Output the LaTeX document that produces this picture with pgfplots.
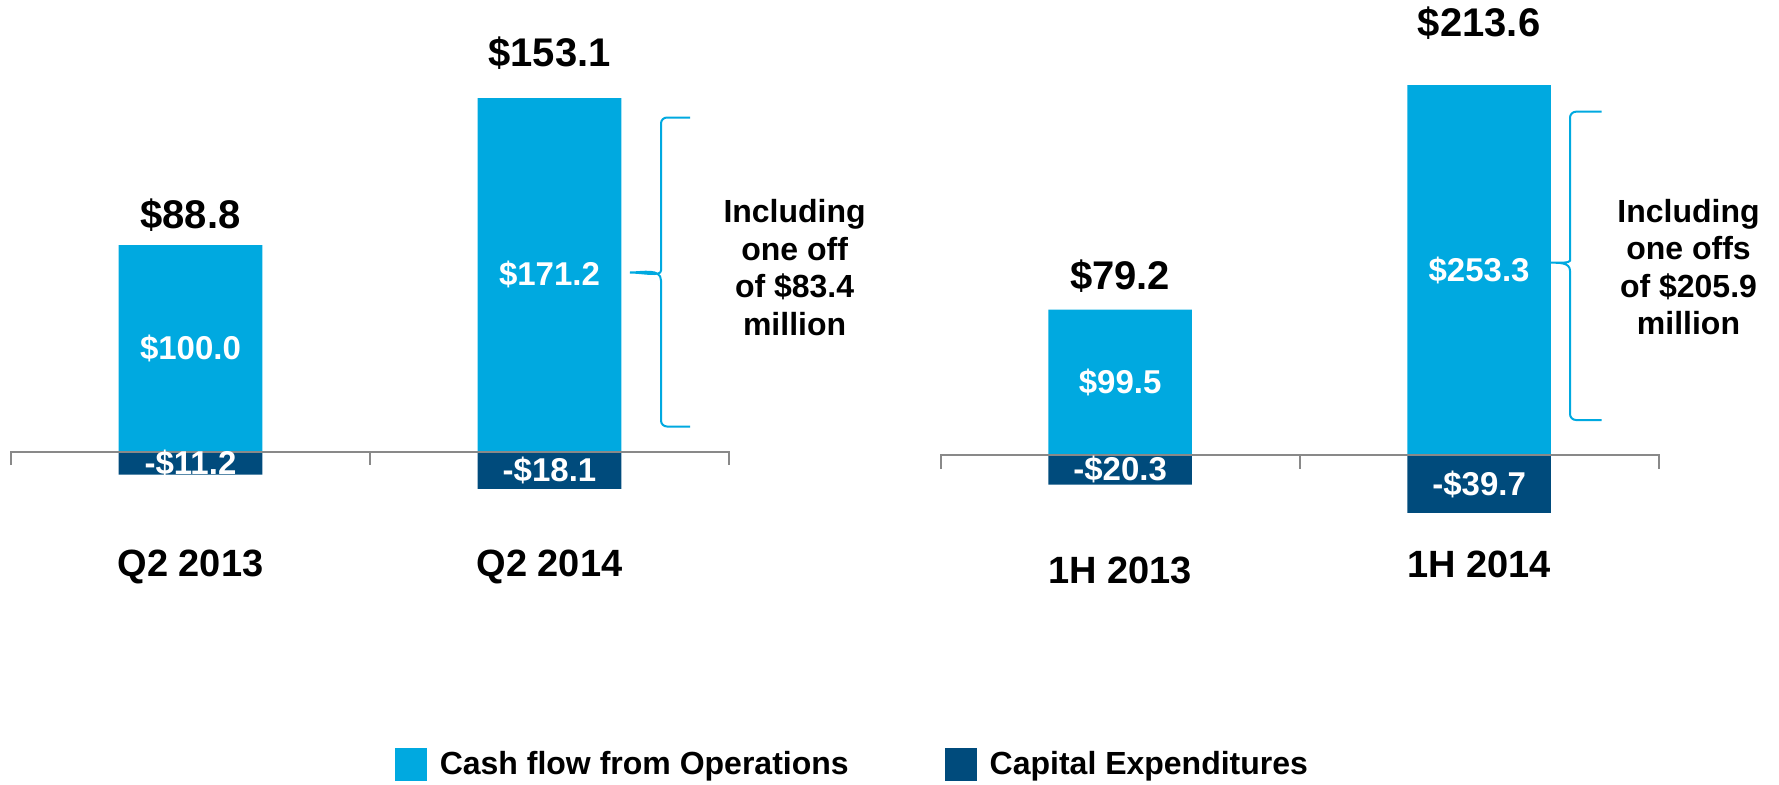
\documentclass[border=0pt]{standalone}
\usepackage{fontspec}
\setmainfont{Liberation Sans}
\usepackage{pgfplots}
\pgfplotsset{compat=1.18}

\definecolor{cfo}{RGB}{0,169,224}
\definecolor{capex}{RGB}{0,75,124}
\definecolor{axisgray}{RGB}{137,137,137}

% font sizes (1 px = 0.5 pt)
\newcommand{\totfont}{\fontsize{20}{24}\selectfont\bfseries}
\newcommand{\catfont}{\fontsize{19}{23}\selectfont\bfseries}
\newcommand{\infont}{\fontsize{16.5}{20}\selectfont\bfseries}
\newcommand{\annfont}{\fontsize{16}{18.7}\selectfont\bfseries}

% brace: hook end x, line x, tip x, top y, bottom y, mid y
\newcommand{\onebrace}[6]{%
  \draw[cfo, line width=1pt, rounded corners=3pt]
    (#1,#4) -- (#2,#4) -- (#2,#6+4pt)
    to[rounded corners=0pt, out=-90, in=0] (#3,#6)
    to[rounded corners=0pt, out=0, in=90] (#2,#6-4pt)
    -- (#2,#5) -- (#1,#5);}

% baseline with three ticks hanging down; #1 = tick length in axis units
\newcommand{\baseaxis}[1]{%
  \draw[axisgray, line width=1pt]
    (axis cs:-0.5,-#1) -- (axis cs:-0.5,0) -- (axis cs:1.5,0) -- (axis cs:1.5,-#1)
    (axis cs:0.5,0) -- (axis cs:0.5,-#1);}

\begin{document}
\begin{tikzpicture}
\useasboundingbox (0,0) rectangle (889.5pt,392pt);
\pgfplotsset{
  cashbars/.style={
    hide axis, scale only axis, clip=false, anchor=south west,
    width=359pt, xmin=-0.5, xmax=1.5,
  },
  posbar/.style={ybar, bar width=0.4, bar shift=0pt, fill=cfo, draw=none,
    legend image code/.code={\fill[cfo] (0pt,-8.25pt) rectangle (16pt,8.25pt);}},
  negbar/.style={ybar, bar width=0.4, bar shift=0pt, fill=capex, draw=none,
    legend image code/.code={\fill[capex] (0pt,-8.25pt) rectangle (16pt,8.25pt);}},
}

% ---- quarter ----
\begin{axis}[cashbars, at={(5.5pt,104.25pt)}, height=268.45pt,
  ymin=-60, ymax=200,
  legend columns=2,
  legend style={at={(axis description cs:0.5345,-0.3511)}, anchor=west,
    draw=none, fill=none, inner sep=0pt, outer sep=0pt,
    font=\fontsize{16}{19}\selectfont\bfseries,
    /tikz/every odd column/.append style={column sep=4.5pt},
    /tikz/every even column/.append style={column sep=46pt}},
  legend cell align=left,
]
\addplot[posbar] coordinates {(0,100.0) (1,171.2)};
\addplot[negbar] coordinates {(0,-11.2) (1,-18.1)};
\legend{Cash flow from Operations, Capital Expenditures}

\baseaxis{6.6}

\node[font=\infont, white] at (axis cs:0,50) {\$100.0};
\node[font=\infont, white] at (axis cs:1,85.6) {\$171.2};
\node[font=\infont, white] at (axis cs:0,-5.8) {-\$11.2};
\node[font=\infont, white] at (axis cs:1,-9.2) {-\$18.1};
\node[font=\totfont] at (axis cs:0,114.3) {\$88.8};
\node[font=\totfont] at (axis cs:1,193.0) {\$153.1};
\node[font=\catfont] at (axis cs:0,-56) {Q2 2013};
\node[font=\catfont] at (axis cs:1,-56) {Q2 2014};
\end{axis}

% ---- half year ----
\begin{axis}[cashbars, at={(470.3pt,120.7pt)}, height=262.8pt,
  ymin=-60, ymax=300,
]
\addplot[posbar] coordinates {(0,99.5) (1,253.3)};
\addplot[negbar] coordinates {(0,-20.3) (1,-39.7)};

\baseaxis{9.3}

\node[font=\infont, white] at (axis cs:0,49.7) {\$99.5};
\node[font=\infont, white] at (axis cs:1,126.7) {\$253.3};
\node[font=\infont, white] at (axis cs:0,-10.1) {-\$20.3};
\node[font=\infont, white] at (axis cs:1,-19.9) {-\$39.7};
\node[font=\totfont] at (axis cs:0,122.8) {\$79.2};
\node[font=\totfont] at (axis cs:1,295.5) {\$213.6};
\node[font=\catfont] at (axis cs:0,-79.2) {1H 2013};
\node[font=\catfont] at (axis cs:1,-74.6) {1H 2014};
\end{axis}

% braces and notes
\onebrace{345pt}{330.5pt}{315pt}{333.25pt}{178.75pt}{255.75pt}
\onebrace{800.85pt}{785pt}{775pt}{336.15pt}{182pt}{260.65pt}
\node[align=center, font=\annfont] at (397.3pt,258.2pt)
  {Including\\one off\\of \$83.4\\million};
\node[align=center, font=\annfont] at (844.25pt,258.4pt)
  {Including\\one offs\\of \$205.9\\million};
\end{tikzpicture}
\end{document}
